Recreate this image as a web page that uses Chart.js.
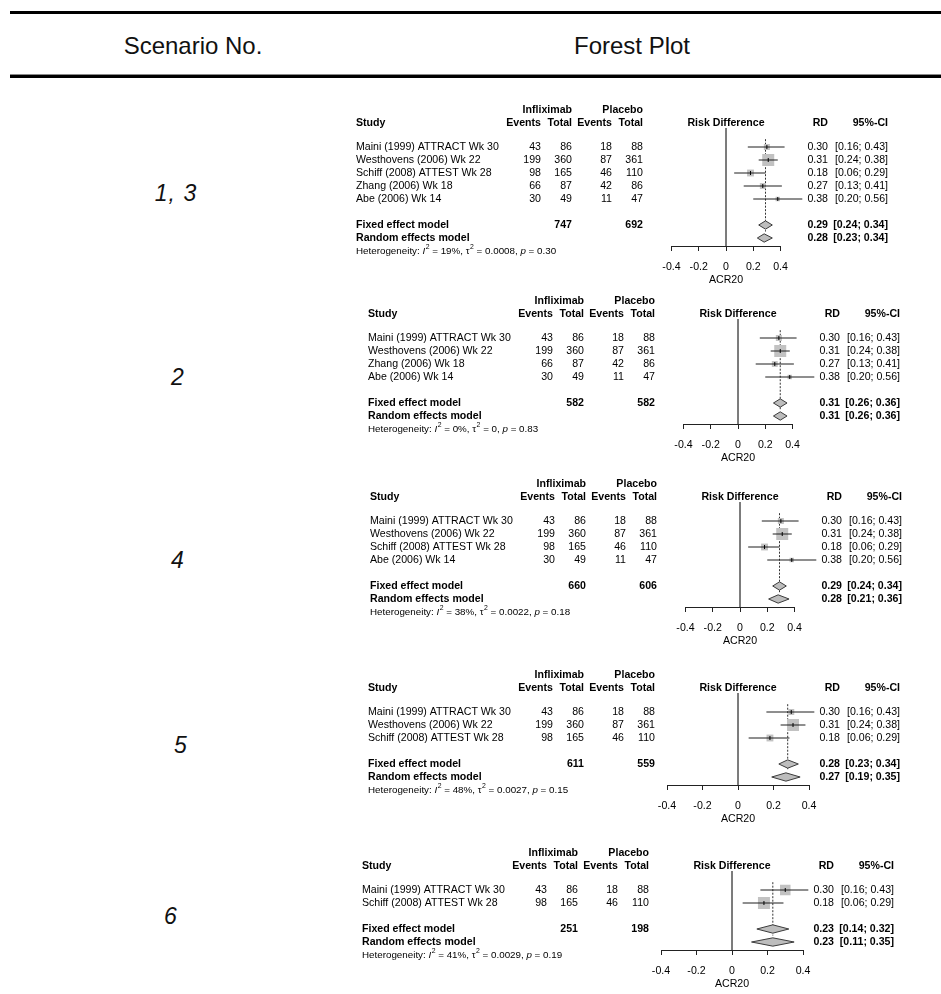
<!DOCTYPE html>
<html>
<head>
<meta charset="utf-8">
<script src="https://cdn.jsdelivr.net/npm/chart.js@4.4.1/dist/chart.umd.min.js"></script>
<style>
  html, body { margin: 0; padding: 0; background: #fff; }
  body { width: 941px; height: 994px; position: relative; overflow: hidden;
         font-family: "Liberation Sans", Arial, sans-serif; color: #000; }
  .rule { position: absolute; left: 10px; right: 0; background: #000; }
  .head { position: absolute; font-size: 24px; color: #111; white-space: nowrap;
          transform: translate(-50%, -50%); }
  .scen { position: absolute; font-size: 23px; font-style: italic; white-space: nowrap;
          letter-spacing: 1px; transform: translate(-50%, -50%); color: #111; }
  canvas.panel { position: absolute; }
</style>
</head>
<body>
<div class="rule" style="top:11px;height:3px"></div>
<div class="head" style="left:193px;top:46px">Scenario No.</div>
<div class="head" style="left:632px;top:46px">Forest Plot</div>
<div class="rule" style="top:74px;height:1px;background:#8a8a8a"></div>
<div class="rule" style="top:75px;height:3px"></div>

<script>
// ---- Study-level data -------------------------------------------------
const studyNames = [
  'Maini (1999) ATTRACT Wk 30',
  'Westhovens (2006) Wk 22',
  'Schiff (2008) ATTEST Wk 28',
  'Zhang (2006) Wk 18',
  'Abe (2006) Wk 14'
];
const eventsInfliximab = [43, 199, 98, 66, 30];
const totalInfliximab  = [86, 360, 165, 87, 49];
const eventsPlacebo    = [18, 87, 46, 42, 11];
const totalPlacebo     = [88, 361, 110, 86, 47];
const studyRD    = [0.30, 0.31, 0.18, 0.27, 0.38];
const studyLower = [0.16, 0.24, 0.06, 0.13, 0.20];
const studyUpper = [0.43, 0.38, 0.29, 0.41, 0.56];

// ---- Scenario-level data ----------------------------------------------
const scenarioLabels  = ['1, 3', '2', '4', '5', '6'];
const scenarioStudies = [[0, 1, 2, 3, 4], [0, 1, 3, 4], [0, 1, 2, 4], [0, 1, 2], [0, 2]];
const sumInfliximab = [747, 582, 660, 611, 251];
const sumPlacebo    = [692, 582, 606, 559, 198];
const fixedRD     = [0.29, 0.31, 0.29, 0.28, 0.23];
const fixedLower  = [0.24, 0.26, 0.24, 0.23, 0.14];
const fixedUpper  = [0.34, 0.36, 0.34, 0.34, 0.32];
const randomRD    = [0.28, 0.31, 0.28, 0.27, 0.23];
const randomLower = [0.23, 0.26, 0.21, 0.19, 0.11];
const randomUpper = [0.34, 0.36, 0.36, 0.35, 0.35];
const hetI2   = ['19%', '0%', '38%', '48%', '41%'];
const hetTau2 = ['0.0008', '0', '0.0022', '0.0027', '0.0029'];
const hetP    = ['0.30', '0.83', '0.18', '0.15', '0.19'];

const xTickValues = [-0.4, -0.2, 0, 0.2, 0.4];
const xAxisTitle = 'ACR20';

// ---- Page layout (pixels) -----------------------------------------------
const panelLayout = [
  { tableX: 356, row0: 147, half: 54.5, labelX: 176 },
  { tableX: 368, row0: 338, half: 54.5, labelX: 178 },
  { tableX: 370, row0: 521, half: 54.5, labelX: 178 },
  { tableX: 368, row0: 712, half: 71,   labelX: 181 },
  { tableX: 362, row0: 890, half: 71,   labelX: 171 }
];
const ROW = 13;                       // row pitch
const COL = { evI: 185, totI: 216, evP: 256, totP: 287, zero: 370, rd: 472, ci: 532 };
const CANVAS_LEFT = 340, CANVAS_W = 600;
const HEAD_ABOVE = 52, BELOW_AXIS = 46, AXIS_H = 42;
const FONT = '"Liberation Sans", Arial, sans-serif';
const FS = 10.6;

const f2 = v => v.toFixed(2);
const ciText = (lo, hi) => '[' + f2(lo) + '; ' + f2(hi) + ']';

// box side from inverse-variance weight of the risk difference
function boxSides(ids) {
  const w = ids.map(s => {
    const p1 = eventsInfliximab[s] / totalInfliximab[s];
    const p2 = eventsPlacebo[s] / totalPlacebo[s];
    return 1 / (p1 * (1 - p1) / totalInfliximab[s] + p2 * (1 - p2) / totalPlacebo[s]);
  });
  const m = Math.max(...w);
  return w.map(v => 12 * Math.sqrt(v / m));
}

// table text, headings and heterogeneity line
const forestText = {
  id: 'forestText',
  afterDraw(chart) {
    const { ctx } = chart;
    const o = chart.options.plugins.forestText;
    const k = o.k, L = o.layout, ids = scenarioStudies[k], n = ids.length;
    const y = r => chart.scales.y.getPixelForValue(r);
    const X = v => L.tableX + v - CANVAS_LEFT;
    const norm = FS + 'px ' + FONT, bold = 'bold ' + FS + 'px ' + FONT;
    const put = (t, x, yy, align, font) => {
      ctx.font = font; ctx.textAlign = align; ctx.fillText(t, x, yy);
    };
    ctx.save();
    ctx.fillStyle = '#000';
    ctx.textBaseline = 'middle';
    const rHead1 = -2.85, rHead2 = -1.85;
    put('Infliximab', X(COL.totI), y(rHead1), 'right', bold);
    put('Placebo', X(COL.totP), y(rHead1), 'right', bold);
    put('Study', X(0), y(rHead2), 'left', bold);
    put('Events', X(COL.evI), y(rHead2), 'right', bold);
    put('Total', X(COL.totI), y(rHead2), 'right', bold);
    put('Events', X(COL.evP), y(rHead2), 'right', bold);
    put('Total', X(COL.totP), y(rHead2), 'right', bold);
    put('Risk Difference', X(COL.zero), y(rHead2), 'center', bold);
    put('RD', X(COL.rd), y(rHead2), 'right', bold);
    put('95%-CI', X(COL.ci), y(rHead2), 'right', bold);

    ids.forEach((s, i) => {
      put(studyNames[s], X(0), y(i), 'left', norm);
      put(String(eventsInfliximab[s]), X(COL.evI), y(i), 'right', norm);
      put(String(totalInfliximab[s]), X(COL.totI), y(i), 'right', norm);
      put(String(eventsPlacebo[s]), X(COL.evP), y(i), 'right', norm);
      put(String(totalPlacebo[s]), X(COL.totP), y(i), 'right', norm);
      put(f2(studyRD[s]), X(COL.rd), y(i), 'right', norm);
      put(ciText(studyLower[s], studyUpper[s]), X(COL.ci), y(i), 'right', norm);
    });
    const rf = n + 1, rr = n + 2;
    put('Fixed effect model', X(0), y(rf), 'left', bold);
    put(String(sumInfliximab[k]), X(COL.totI), y(rf), 'right', bold);
    put(String(sumPlacebo[k]), X(COL.totP), y(rf), 'right', bold);
    put(f2(fixedRD[k]), X(COL.rd), y(rf), 'right', bold);
    put(ciText(fixedLower[k], fixedUpper[k]), X(COL.ci), y(rf), 'right', bold);
    put('Random effects model', X(0), y(rr), 'left', bold);
    put(f2(randomRD[k]), X(COL.rd), y(rr), 'right', bold);
    put(ciText(randomLower[k], randomUpper[k]), X(COL.ci), y(rr), 'right', bold);

    // Heterogeneity: I^2 = .., tau^2 = .., p = ..
    const hs = 9.8, hy = y(n + 3.05);
    const pieces = [
      ['Heterogeneity: ', '', 0], ['I', 'italic ', 0], ['2', '', 1],
      [' = ' + hetI2[k] + ', ', '', 0], ['\u03c4', '', 0], ['2', '', 1],
      [' = ' + hetTau2[k] + ', ', '', 0], ['p', 'italic ', 0], [' = ' + hetP[k], '', 0]
    ];
    let hx = X(0);
    ctx.textAlign = 'left';
    pieces.forEach(([t, st, sup]) => {
      ctx.font = st + (sup ? hs * 0.7 : hs) + 'px ' + FONT;
      ctx.fillText(t, hx + (sup ? 0.5 : 0), sup ? hy - 4.5 : hy);
      hx += ctx.measureText(t).width + (sup ? 0.5 : 0);
    });
    ctx.restore();
  }
};

scenarioStudies.forEach((ids, k) => {
  const L = panelLayout[k];
  const n = ids.length;
  const top = L.row0 - HEAD_ABOVE;
  const h = HEAD_ABOVE + ROW * (n + 2) + 8 + BELOW_AXIS;
  const cv = document.createElement('canvas');
  cv.className = 'panel';
  cv.width = CANVAS_W; cv.height = h;
  cv.style.left = CANVAS_LEFT + 'px'; cv.style.top = top + 'px';
  document.body.appendChild(cv);

  // scenario number in the left column
  const lab = document.createElement('div');
  lab.className = 'scen';
  lab.textContent = scenarioLabels[k];
  lab.style.left = L.labelX + 'px';
  lab.style.top = (L.row0 + ROW * (n + 2) / 2) + 'px';
  document.body.appendChild(lab);

  const yTop = -19 / ROW;
  const yBottom = (n + 2) + 8 / ROW;
  const zeroX = L.tableX + COL.zero;
  const padTop = HEAD_ABOVE - 19;
  const padBottom = h - padTop - (19 + ROW * (n + 2) + 8) - AXIS_H;

  const sides = boxSides(ids);
  const datasets = [];
  datasets.push({
    data: [{ x: 0, y: yTop }, { x: 0, y: yBottom }],
    showLine: true, borderColor: '#6a6a6a', borderWidth: 1, pointRadius: 0, order: 10
  });
  datasets.push({
    data: [{ x: fixedRD[k], y: -0.6 }, { x: fixedRD[k], y: n + 1.5 }],
    showLine: true, borderColor: '#333', borderWidth: 1, borderDash: [2, 1.5],
    pointRadius: 0, order: 9
  });
  datasets.push({
    data: ids.map((s, i) => ({ x: studyRD[s], y: i })),
    pointStyle: 'rect', pointRadius: ids.map((s, i) => sides[i] / Math.SQRT2),
    backgroundColor: '#c2c2c2', borderWidth: 0, order: 6, clip: false
  });
  ids.forEach((s, i) => {
    datasets.push({
      data: [{ x: studyLower[s], y: i }, { x: studyUpper[s], y: i }],
      showLine: true, borderColor: '#1e1e1e', borderWidth: 1, pointRadius: 0,
      order: 5, clip: false
    });
  });
  datasets.push({
    data: ids.map((s, i) => ({ x: studyRD[s], y: i })),
    pointStyle: 'line', rotation: 90, pointRadius: 2,
    borderColor: '#000', borderWidth: 1, order: 4, clip: false
  });
  const diamond = (est, lo, hi, r) => ({
    data: [{ x: lo, y: r }, { x: est, y: r - 0.32 }, { x: hi, y: r },
           { x: est, y: r + 0.32 }, { x: lo, y: r }],
    showLine: true, fill: 'shape', backgroundColor: '#bdbdbd', borderColor: '#3c3c3c',
    borderWidth: 1, pointRadius: 0, tension: 0, order: 3, clip: false
  });
  datasets.push(diamond(fixedRD[k], fixedLower[k], fixedUpper[k], n + 1));
  datasets.push(diamond(randomRD[k], randomLower[k], randomUpper[k], n + 2));

  new Chart(cv, {
    type: 'scatter',
    data: { datasets },
    options: {
      responsive: false, animation: false, events: [],
      layout: {
        padding: {
          left: zeroX - L.half - CANVAS_LEFT,
          right: CANVAS_LEFT + CANVAS_W - (zeroX + L.half),
          top: padTop, bottom: padBottom
        }
      },
      plugins: {
        legend: { display: false }, tooltip: { enabled: false },
        forestText: { k, layout: L }
      },
      scales: {
        x: {
          type: 'linear', position: 'bottom', min: -0.4, max: 0.4,
          afterBuildTicks: s => { s.ticks = xTickValues.map(v => ({ value: v })); },
          afterFit: s => { s.height = AXIS_H; },
          grid: { drawOnChartArea: false, drawTicks: true, tickLength: 5, color: '#222', lineWidth: 1 },
          border: { display: true, color: '#222', width: 1 },
          ticks: {
            font: { family: FONT, size: FS }, color: '#000', padding: 10,
            maxRotation: 0, autoSkip: false,
            callback: v => (v === 0 ? '0' : v.toFixed(1))
          },
          title: {
            display: true, text: xAxisTitle, color: '#000',
            font: { family: FONT, size: FS }, padding: { top: 0, bottom: 2 }
          }
        },
        y: { type: 'linear', display: false, reverse: true, min: yTop, max: yBottom }
      }
    },
    plugins: [forestText]
  });
});
</script>
</body>
</html>
